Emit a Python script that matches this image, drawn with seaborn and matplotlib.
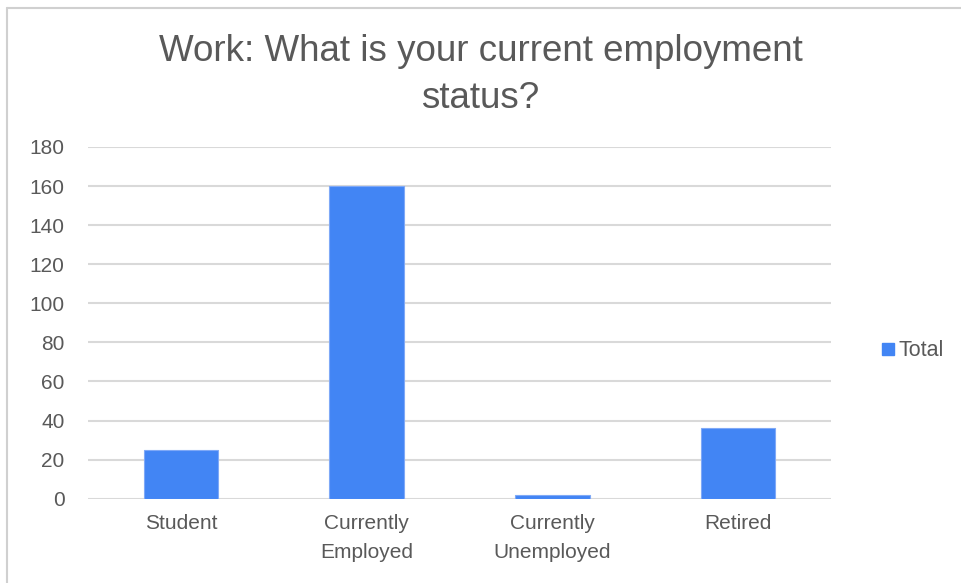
import matplotlib
matplotlib.use("Agg")
import matplotlib.pyplot as plt
from matplotlib.lines import Line2D
import seaborn as sns
import pandas as pd

categories = ["Student", "Currently\nEmployed", "Currently\nUnemployed", "Retired"]
totals = [25, 160, 2, 36]
y_ticks = [0, 20, 40, 60, 80, 100, 120, 140, 160, 180]

sns.set_theme(style="white")
plt.rcParams["font.family"] = ["Liberation Sans", "DejaVu Sans"]

TEXT = "#595959"
BAR = "#4285F4"
GRID = "#d9d9d9"

df = pd.DataFrame({"status": categories, "Total": totals})

fig = plt.figure(figsize=(9.61, 5.83), dpi=100)
ax = fig.add_axes([0.0916, 0.1446, 0.7731, 0.6033])

sns.barplot(data=df, x="status", y="Total", color=BAR, width=0.40,
            ax=ax, saturation=1, edgecolor="#7fa9f7", linewidth=0.8)

ax.set_ylim(0, 180)
ax.set_yticks(y_ticks)
ax.set_xlim(-0.5, len(categories) - 0.5)
ax.yaxis.grid(True, color=GRID, linewidth=1.5)
ax.set_axisbelow(True)
for s in ax.spines.values():
    s.set_visible(False)
ax.set_xlabel("")
ax.set_ylabel("")
ax.tick_params(axis="both", length=0, labelsize=15, colors=TEXT)
ax.tick_params(axis="x", pad=11)
ax.tick_params(axis="y", pad=17)
for lbl in ax.get_xticklabels():
    lbl.set_linespacing(1.65)

fig.text(0.5, 0.871, "Work: What is your current employment\nstatus?",
         ha="center", va="center", fontsize=26.5, color=TEXT, linespacing=1.45)

handle = Line2D([], [], marker="s", linestyle="none", markersize=9,
                markerfacecolor=BAR, markeredgecolor=BAR)
fig.legend([handle], ["Total"], loc="center left",
           bbox_to_anchor=(0.895, 0.398), frameon=False, fontsize=15.5,
           labelcolor=TEXT, handletextpad=0.1, handlelength=0.8)

# Outer chart frame (top and left edges)
fig.add_artist(Line2D([0.0073, 1.0], [0.986, 0.986], color="#d0d0d0", linewidth=1.5))
fig.add_artist(Line2D([0.0073, 0.0073], [0.0, 0.986], color="#d0d0d0", linewidth=1.5))

fig.savefig("out.png", dpi=100, facecolor="white")
